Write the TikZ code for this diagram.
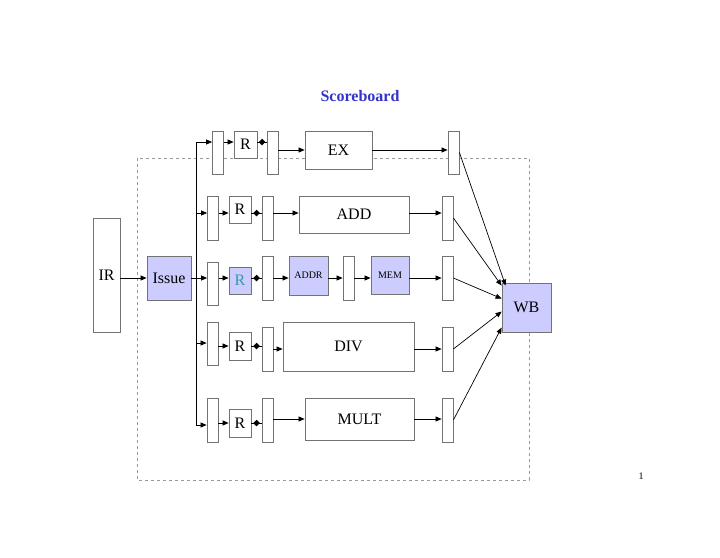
\documentclass[tikz,border=0pt]{standalone}
\usepackage{fontspec}
\setmainfont{Liberation Serif}
\usetikzlibrary{arrows.meta,positioning,shapes.geometric,calc}

\definecolor{lavender}{HTML}{CCCCFF}
\definecolor{titleblue}{HTML}{3333CC}
\definecolor{tealr}{HTML}{3399AA}

\begin{document}
\begin{tikzpicture}[x=1pt,y=-1pt]

		\tikzstyle{reg}=[draw=black!55,line width=0.8pt,fill=white,minimum width=11pt,inner sep=0pt]
		\tikzstyle{unit}=[draw=black!55,line width=0.8pt,fill=white,inner sep=0pt,font=\fontsize{16}{18}\selectfont]
		\tikzstyle{small}=[font=\fontsize{10}{12}\selectfont]
		\tikzstyle{hilite}=[fill=lavender]
		\tikzstyle{wire}=[line width=0.7pt,-{Triangle[length=6pt,width=5pt]}]
		\tikzstyle{link}=[line width=0.7pt]
		\tikzstyle{knot}=[diamond,fill=black,inner sep=1.7pt]
		\tikzstyle{frame}=[draw=black!40,dashed,line width=0.5pt]
		
		\useasboundingbox (0,0) rectangle (720,557);
		
		\node[font=\fontsize{16}{18}\selectfont\bfseries,text=titleblue] (title) at (360,96) {Scoreboard};
		\draw[frame] (137,158) rectangle (529,480);
		
		\node[unit,minimum width=27pt,minimum height=114pt] (ir) at (106.5,275.5) {IR};
		\node[unit,hilite,minimum width=44pt,minimum height=44pt] (issue) at (169,278) {Issue};
		\node[unit,hilite,minimum width=49pt,minimum height=49pt] (wb) at (526.5,307.5) {WB};
		
		% issue bus
		\coordinate (tap1) at (196,142);
		\coordinate (tap2) at (196,213);
		\coordinate (tap3) at (196,278);
		\coordinate (tap4) at (196,343);
		\coordinate (tap5) at (196,425);
		
		% EX
		\node[reg,minimum height=43pt] (ra1) at (218,152.5) {};
		\node[unit,minimum width=23pt,minimum height=27pt] (rr1) at (245.5,144.5) {R};
		\node[reg,minimum height=43pt] (rb1) at (272.5,152.5) {};
		\node[unit,minimum width=67pt,minimum height=38pt] (ex) at (338.5,150) {EX};
		\node[reg,minimum height=43pt] (rc1) at (453.5,152.5) {};
		
		% ADD
		\node[reg,minimum height=44pt] (ra2) at (213,218) {};
		\node[unit,minimum width=22pt,minimum height=27pt] (rr2) at (240,209.5) {R};
		\node[reg,minimum height=44pt] (rb2) at (267.5,218) {};
		\node[unit,minimum width=110pt,minimum height=37pt] (add) at (354,214.5) {ADD};
		\node[reg,minimum height=44pt] (rc2) at (447.5,218) {};
		
		% ADDR / MEM
		\node[reg,minimum height=43pt] (ra3) at (213,283.5) {};
		\node[unit,hilite,text=tealr,minimum width=22pt,minimum height=27pt] (rr3) at (240,280.5) {R};
		\node[reg,minimum height=44pt] (rb3) at (267.5,278) {};
		\node[unit,hilite,small,minimum width=39pt,minimum height=39pt] (addr) at (308.5,275.5) {ADDR};
		\node[reg,minimum height=44pt] (rm3) at (348.5,278) {};
		\node[unit,hilite,small,minimum width=38pt,minimum height=38pt] (mem) at (390,275) {MEM};
		\node[reg,minimum height=44pt] (rc3) at (447.5,278) {};
		
		% DIV
		\node[reg,minimum height=43pt] (ra4) at (212.5,343.5) {};
		\node[unit,minimum width=22pt,minimum height=28pt] (rr4) at (240,346) {R};
		\node[reg,minimum height=44pt] (rb4) at (267.5,349) {};
		\node[unit,minimum width=131pt,minimum height=49pt] (div) at (348.5,346.5) {DIV};
		\node[reg,minimum height=44pt] (rc4) at (447.5,349) {};
		
		% MULT
		\node[reg,minimum height=44pt] (ra5) at (212.5,420) {};
		\node[unit,minimum width=22pt,minimum height=28pt] (rr5) at (240,423) {R};
		\node[reg,minimum height=44pt] (rb5) at (267.5,420) {};
		\node[unit,minimum width=109pt,minimum height=42pt] (mult) at (359.5,419) {MULT};
		\node[reg,minimum height=44pt] (rc5) at (447.5,420) {};
		
		\node[small] (page) at (641,476) {1};
		
		\draw[wire] (ir.east |- issue) -- (issue.west);
		\draw[link] (tap1) -- (tap5);
		
		\draw[wire] (tap1) -- (tap1 -| ra1.west);
		\draw[wire] (ra1.east |- tap1) -- (rr1.west |- tap1);
		\draw[link] (rr1.east |- tap1) -- node[knot]{} (rb1.west |- tap1);
		\draw[wire] (rb1.east |- ex) -- (ex.west);
		\draw[wire] (ex.east) -- (ex.east -| rc1.west);
		
		\draw[wire] (tap2) -- (tap2 -| ra2.west);
		\draw[wire] (ra2.east |- tap2) -- (rr2.west |- tap2);
		\draw[link] (rr2.east |- tap2) -- node[knot]{} (rb2.west |- tap2);
		\draw[wire] (rb2.east |- tap2) -- (add.west |- tap2);
		\draw[wire] (add.east |- tap2) -- (rc2.west |- tap2);
		
		\draw[wire] (issue.east) -- (tap3 -| ra3.west);
		\draw[wire] (ra3.east |- tap3) -- (rr3.west |- tap3);
		\draw[link] (rr3.east |- tap3) -- node[knot]{} (rb3.west |- tap3);
		\draw[wire] (rb3.east |- tap3) -- (addr.west |- tap3);
		\draw[wire] (addr.east |- tap3) -- (rm3.west |- tap3);
		\draw[wire] (rm3.east |- tap3) -- (mem.west |- tap3);
		\draw[wire] (mem.east |- tap3) -- (rc3.west |- tap3);
		
		\draw[wire] (tap4) -- (tap4 -| ra4.west);
		\draw[wire] (ra4.east |- rr4) -- (rr4.west);
		\draw[link] (rr4.east) -- node[knot]{} (rr4.east -| rb4.west);
		\draw[wire] (rb4.east) -- (rb4.east -| div.west);
		\draw[wire] (div.east |- rc4) -- (rc4.west);
		
		\draw[wire] (tap5) -- (tap5 -| ra5.west);
		\draw[wire] (ra5.east |- rr5) -- (rr5.west);
		\draw[link] (rr5.east) -- node[knot]{} (rr5.east -| rb5.west);
		\draw[wire] (rb5.east |- mult) -- (mult.west);
		\draw[wire] (mult.east) -- (mult.east -| rc5.west);
		
		\draw[wire] (rc1.east) -- ($(wb.north west)+(4,3)$);
		\draw[wire] (rc2.east) -- ($(wb.north west)+(0,3)$);
		\draw[wire] (rc3.east) -- ($(wb.north west)+(0,16)$);
		\draw[wire] (rc4.east) -- ($(wb.north west)+(0,29)$);
		\draw[wire] (rc5.east) -- ($(wb.north west)+(0,45)$);
		
\end{tikzpicture}
\end{document}
